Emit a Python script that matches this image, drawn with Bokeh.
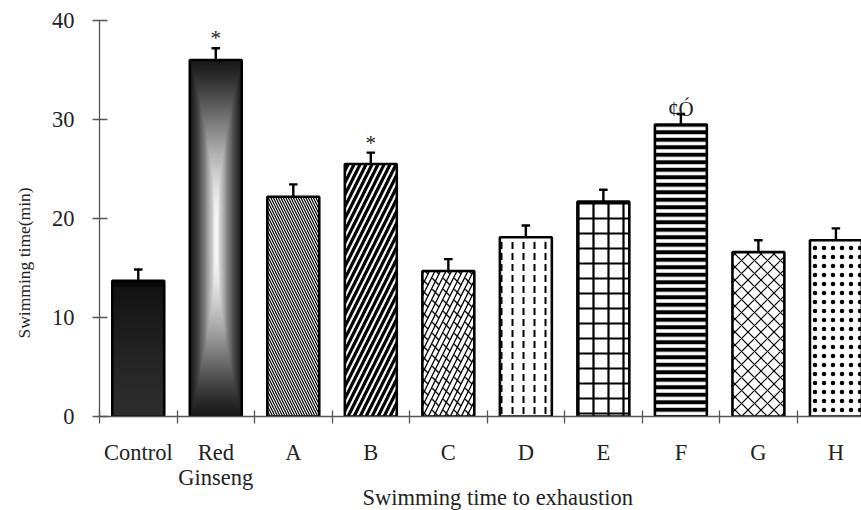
import numpy as np
from bokeh.plotting import figure
from bokeh.models import Range1d, FixedTicker, Title
from bokeh.embed import file_html
from bokeh.resources import INLINE
from bokeh.core.properties import value

# ---------------- data ----------------
categories = ["Control", "Red\nGinseng", "A", "B", "C", "D", "E", "F", "G", "H"]
means = [13.7, 36.0, 22.2, 25.5, 14.7, 18.1, 21.7, 29.5, 16.6, 17.8]
errors = [1.15, 1.2, 1.25, 1.15, 1.2, 1.2, 1.2, 1.05, 1.2, 1.2]
marks = ["", "*", "", "*", "", "", "", "¢Ó", "", ""]
y_ticks = [0, 10, 20, 30, 40]
x_title = "Swimming time to exhaustion"
y_title = "Swimming time(min)"

# ---------------- styles ----------------
FONT = "Liberation Serif"
BAR_W = 0.67
# (pattern, scale, weight) for hatched bars; None for gradient bars
hatches = [None, None,
           ("left_diagonal_line", 5, 1.2),
           ("right_diagonal_line", 12, 3.2),
           ("right_diagonal_line", 11, 1.3),
           ("vertical_dash", 11, 2.0),
           ("cross", 15, 2.2),
           ("horizontal_line", 7.5, 4.0),
           ("diagonal_cross", 13, 1.2),
           ("dot", 9, 0.9)]
overlay = {4: ("left_diagonal_dash", 11, 1.3)}
mark_offset = {"*": -10, "¢Ó": -5}

n = len(categories)
centers = [i + 0.5 for i in range(n)]
bounds = list(range(n + 1))

p = figure(width=861, height=510, output_backend="svg", toolbar_location=None,
           x_range=Range1d(0, 9.83), y_range=Range1d(0, 40),
           min_border_left=97, min_border_right=0, min_border_top=20,
           min_border_bottom=94)
p.outline_line_color = None
p.xgrid.visible = False
p.ygrid.visible = False
p.background_fill_color = "white"


def rgba(gray):
    ny, nx = gray.shape
    img = np.empty((ny, nx), dtype=np.uint32)
    v = img.view(dtype=np.uint8).reshape((ny, nx, 4))
    g = np.clip(gray, 0, 255).astype(np.uint8)
    v[..., 0] = g
    v[..., 1] = g
    v[..., 2] = g
    v[..., 3] = 255
    return img


# gradient fills
ny, nx = 240, 60
t = np.linspace(0, 1, ny)[:, None] * np.ones((1, nx))      # 0 bottom -> 1 top
s = np.ones((ny, 1)) * np.linspace(-1, 1, nx)[None, :]
dark = 46 - 30 * t ** 1.3
dark[t > 0.95] = 8
u = np.abs(s)
vv = np.abs(2 * t - 1)
d = np.maximum(u, vv ** 1.8)
light = 28 + 227 * (1 - d) ** 1.4

grads = {0: rgba(dark), 1: rgba(light)}
for i, img in grads.items():
    p.image_rgba(image=[img], x=centers[i] - BAR_W / 2, y=0,
                 dw=BAR_W, dh=means[i])

# hatched bars
for i, h in enumerate(hatches):
    if h is None:
        continue
    pat, sc, wt = h
    p.quad(left=[centers[i] - BAR_W / 2], right=[centers[i] + BAR_W / 2],
           bottom=[0], top=[means[i]], fill_color="white",
           hatch_pattern=pat, hatch_scale=sc, hatch_weight=wt,
           hatch_color="black", line_color=None)
    if i in overlay:
        pat2, sc2, wt2 = overlay[i]
        p.quad(left=[centers[i] - BAR_W / 2], right=[centers[i] + BAR_W / 2],
               bottom=[0], top=[means[i]], fill_alpha=0,
               hatch_pattern=pat2, hatch_scale=sc2, hatch_weight=wt2,
               hatch_color="black", line_color=None)

# bar outlines
p.quad(left=[c - BAR_W / 2 for c in centers], right=[c + BAR_W / 2 for c in centers],
       bottom=[0] * n, top=means, fill_alpha=0, line_color="black", line_width=2.6)

# error bars (upper only)
tops = [m + e for m, e in zip(means, errors)]
p.segment(x0=centers, y0=means, x1=centers, y1=tops, line_color="black", line_width=2.4)
p.segment(x0=[c - 0.055 for c in centers], y0=tops, x1=[c + 0.055 for c in centers],
          y1=tops, line_color="black", line_width=2.4)

# significance marks
for i, m in enumerate(marks):
    if not m:
        continue
    p.text(x=[centers[i]], y=[tops[i]], text=[m], text_align="center",
           text_baseline="alphabetic", y_offset=mark_offset[m],
           text_font=value(FONT), text_font_size="21px", text_color="#222")

# axes
ya = p.yaxis[0]
ya.ticker = FixedTicker(ticks=y_ticks)
ya.major_label_text_font = FONT
ya.major_label_text_font_size = "22.5px"
ya.major_label_text_color = "#222"
ya.major_label_standoff = 18
ya.major_tick_in = 8
ya.major_tick_out = 7
ya.minor_tick_in = 0
ya.minor_tick_out = 0
ya.axis_line_color = "#555"
ya.major_tick_line_color = "#555"
ya.axis_line_width = 1.3
ya.major_tick_line_width = 1.3

xa = p.xaxis[0]
xa.ticker = FixedTicker(ticks=centers, minor_ticks=bounds)
xa.major_label_overrides = {c: lab for c, lab in zip(centers, categories)}
xa.major_label_text_font = FONT
xa.major_label_text_font_size = "22.5px"
xa.major_label_text_line_height = 1.0
xa.major_label_text_color = "#222"
xa.major_label_standoff = 16
xa.major_tick_in = 0
xa.major_tick_out = 0
xa.minor_tick_in = 6
xa.minor_tick_out = 7
xa.axis_line_color = "#555"
xa.minor_tick_line_color = "#555"
xa.axis_line_width = 1.3
xa.minor_tick_line_width = 1.3

# axis titles as side titles (offset along the side, from its start)
p.add_layout(Title(text=x_title, align="left", offset=263, vertical_align="top",
                   standoff=-16, text_font=FONT, text_font_size="22.5px",
                   text_font_style="normal", text_color="#222"), "below")
p.add_layout(Title(text=y_title, align="left", offset=78, vertical_align="top",
                   standoff=26, text_font=FONT, text_font_size="17.5px",
                   text_font_style="normal", text_color="#222"), "left")

open("out.html", "w").write(file_html(p, INLINE))
